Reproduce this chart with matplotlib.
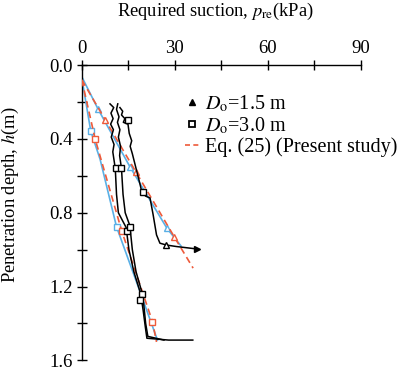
import numpy as np
import matplotlib
matplotlib.use("Agg")
import matplotlib.pyplot as plt
from matplotlib.lines import Line2D

plt.rcParams["font.family"] = ["Liberation Serif", "DejaVu Serif"]
plt.rcParams["mathtext.fontset"] = "stix"

# measured curves (kPa, m)
d15_x = [12.3, 13.2, 12.8, 13.9, 13.4, 14.9, 15.3, 16.1, 15.6, 16.3, 17.2, 18.1, 18.7, 19.4, 20.6, 22.0, 23.0, 24.1, 25.2, 27.3, 30.5, 37.0]
d15_h = [0.23, 0.25, 0.27, 0.29, 0.31, 0.32, 0.37, 0.41, 0.44, 0.48, 0.54, 0.60, 0.64, 0.69, 0.71, 0.72, 0.81, 0.92, 0.965, 0.975, 0.983, 0.996]

d30a_x = [9.1, 10.3, 9.4, 10.1, 9.3, 10.2, 9.5, 10.4, 10.0, 10.8, 11.2, 11.8, 14.3, 15.2, 16.8, 19.0, 19.8, 20.5, 21.0, 28.0, 35.8]
d30a_h = [0.21, 0.23, 0.26, 0.29, 0.32, 0.35, 0.39, 0.43, 0.47, 0.56, 0.70, 0.80, 0.88, 1.00, 1.12, 1.24, 1.33, 1.42, 1.48, 1.49, 1.49]

d30b_x = [11.6, 11.2, 12.0, 11.5, 12.3, 11.8, 12.5, 12.2, 12.8, 13.3, 14.0, 15.5, 16.3, 17.5, 19.2, 20.0, 20.6, 21.3, 26.5]
d30b_h = [0.21, 0.24, 0.28, 0.31, 0.35, 0.39, 0.44, 0.49, 0.56, 0.70, 0.80, 0.87, 1.00, 1.12, 1.22, 1.30, 1.40, 1.47, 1.49]

# markers on measured curves
d15_mk_x = [14.9, 19.6]
d15_mk_h = [0.30, 0.69]
d15_tri_x = [27.3]
d15_tri_h = [0.975]
d30_mk_x = [11.0, 12.5, 14.5, 15.5, 19.3, 18.7]
d30_mk_h = [0.558, 0.558, 0.90, 0.875, 1.24, 1.275]

# predictions, D = 1.5 m
blue15_x = [0.0, 5.3, 15.5, 27.5, 32.0]
blue15_h = [0.063, 0.24, 0.55, 0.885, 0.98]
blue15_mk = [1, 2, 3]
red15_x = [0.0, 7.5, 17.5, 29.8, 35.9]
red15_h = [0.08, 0.295, 0.58, 0.93, 1.10]
red15_mk = [1, 2, 3]

# predictions, D = 3.0 m
blue30_x = [0.0, 2.9, 5.9, 11.2, 18.7, 24.4]
blue30_h = [0.07, 0.358, 0.51, 0.876, 1.224, 1.49]
blue30_mk = [1, 3]
red30_x = [0.0, 4.3, 12.9, 22.8, 24.1]
red30_h = [0.08, 0.40, 0.90, 1.39, 1.50]
red30_mk = [1, 2, 3]

BLUE = "#5ab0e6"
RED = "#ee5a3a"

fig = plt.figure(figsize=(4.11, 3.70), dpi=100)
ax = fig.add_axes([0.199, 0.026, 0.679, 0.798])

for x, h, mk, mkr in [(blue15_x, blue15_h, blue15_mk, "^"), (blue30_x, blue30_h, blue30_mk, "s")]:
    ax.plot(x, h, color=BLUE, lw=1.2, marker=mkr, markevery=mk, ms=4.5,
            mfc="white", mec=BLUE, mew=1.0, zorder=2)
for x, h, mk, mkr in [(red15_x, red15_h, red15_mk, "^"), (red30_x, red30_h, red30_mk, "s")]:
    ax.plot(x, h, color=RED, lw=1.2, ls=(0, (4, 2.5)), marker=mkr, markevery=mk, ms=4.5,
            mfc="white", mec=RED, mew=1.0, zorder=3)

ax.plot(d30a_x, d30a_h, color="black", lw=1.1, zorder=4)
ax.plot(d30b_x, d30b_h, color="black", lw=1.1, zorder=4)
ax.plot(d15_x, d15_h, color="black", lw=1.1, zorder=4)
ax.plot(d30_mk_x, d30_mk_h, ls="none", marker="s", ms=4.5, mfc="white", mec="black", mew=1.0, zorder=5)
ax.plot(d15_mk_x, d15_mk_h, ls="none", marker="s", ms=4.5, mfc="white", mec="black", mew=1.0, zorder=5)
ax.plot(d15_tri_x, d15_tri_h, ls="none", marker="^", ms=4.5, mfc="white", mec="black", mew=1.0, zorder=5)
ax.plot(d15_x[-1:], d15_h[-1:], ls="none", marker=">", ms=5, color="black", zorder=5)

ax.set_xlim(0, 90)
ax.set_ylim(1.6, 0.0)
ax.xaxis.tick_top()
ax.set_xticks(np.arange(0, 91, 15))
ax.set_xticklabels(["0", "", "30", "", "60", "", "90"])
ax.set_yticks(np.arange(0, 1.61, 0.2))
ax.set_yticklabels(["0.0", "", "0.4", "", "0.8", "", "1.2", "", "1.6"])
ax.tick_params(axis="both", direction="inout", length=7, width=1.0, labelsize=13.5)
ax.tick_params(axis="x", pad=2)
ax.tick_params(axis="y", pad=3)
for s in ["right", "bottom"]:
    ax.spines[s].set_visible(False)
for s in ["top", "left"]:
    ax.spines[s].set_linewidth(1.0)

fig.text(215 / 411, 1 - 11 / 370, r"Required suction, $p_\mathrm{re}$(kPa)", ha="center", va="center", fontsize=13.3)
fig.text(10 / 411, 1 - 195 / 370, r"Penetration depth, $h$(m)", rotation=90, ha="center", va="center", fontsize=13.3)

handles = [
    Line2D([], [], ls="none", marker="^", ms=4.5, color="black"),
    Line2D([], [], ls="none", marker="s", ms=4.5, mfc="white", mec="black", mew=1.3),
    Line2D([], [], color=RED, lw=1.2, ls=(0, (3, 2))),
]
labels = [r"$D_\mathrm{o}$=1.5 m", r"$D_\mathrm{o}$=3.0 m", "Eq. (25) (Present study)"]
ax.legend(handles, labels, loc="upper left", bbox_to_anchor=(0.34, 0.93), frameon=False,
          fontsize=14.5, handlelength=0.7, handletextpad=0.3, labelspacing=0.05, borderaxespad=0)

fig.savefig("out.png", dpi=100)
